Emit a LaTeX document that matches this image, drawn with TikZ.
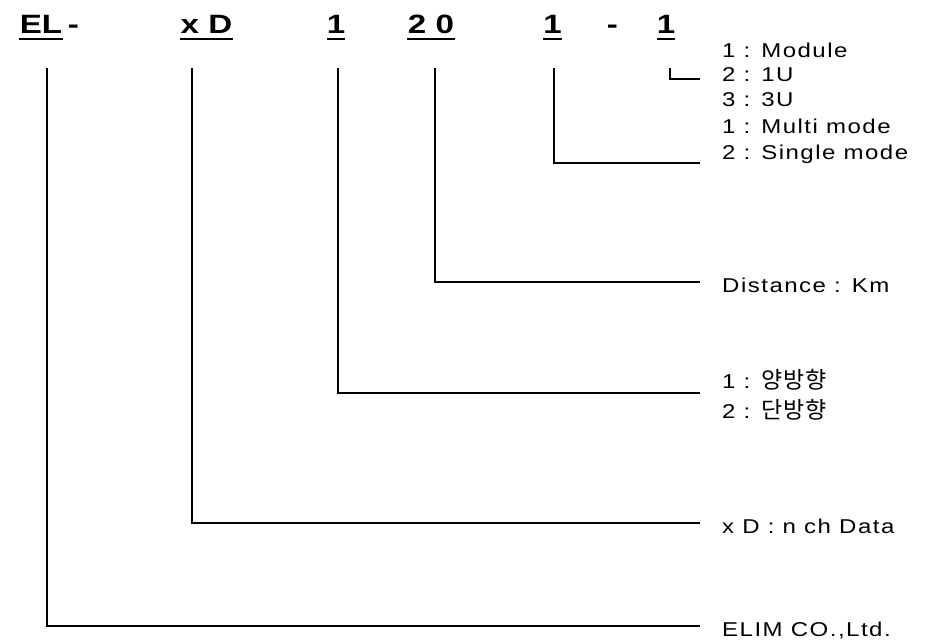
\documentclass[tikz,border=0pt]{standalone}
\usepackage{fontspec}
\setmainfont{Liberation Sans}[FakeStretch=1.2,LetterSpace=7.5]
\newfontfamily\krfont{Noto Sans CJK KR}[LetterSpace=5,Scale=1.15]
\newfontfamily\hdfont{Liberation Sans}[FakeStretch=1.25]
\begin{document}
\begin{tikzpicture}[x=1pt,y=-1pt,
  code/.style={font=\hdfont\bfseries\fontsize{26.5}{30}\selectfont, inner sep=0pt, anchor=base},
  lbl/.style={font=\fontsize{20}{24}\selectfont, inner sep=0pt, anchor=base west},
  wire/.style={line width=1.6pt},
  uline/.style={line width=1.8pt}]
\useasboundingbox (0,0) rectangle (935,640);

\node[code] (el) at (41,33) {EL};
\node[code] (dashA) at (73.5,33) {-};
\node[code] (xd) at (206.5,33) {x D};
\node[code] (dir) at (336,33) {1};
\node[code] (dist) at (431,33) {2 0};
\node[code] (mode) at (552.5,33) {1};
\node[code] (dashB) at (612.5,33) {-};
\node[code] (form) at (666,33) {1};

\draw[uline] (19,39) -- (63,39);
\draw[uline] (180,39) -- (233,39);
\draw[uline] (327,39) -- (345,39);
\draw[uline] (407,39) -- (455,39);
\draw[uline] (543,39) -- (562,39);
\draw[uline] (657,39) -- (675,39);

\node[lbl] (form1) at (722,57) {1 : Module};
\node[lbl] (form2) at (722,81.5) {2 : 1U};
\node[lbl] (form3) at (722,106) {3 : 3U};
\node[lbl] (mode1) at (722,133) {1 : Multi mode};
\node[lbl] (mode2) at (722,159) {2 : Single mode};
\node[lbl] (dist1) at (722,292.5) {Distance : Km};
\node[lbl] (dir1) at (722,388) {1 : {\krfont 양방향}};
\node[lbl] (dir2) at (722,418) {2 : {\krfont 단방향}};
\node[lbl] (xd1) at (722,533) {x D : n ch Data};
\node[lbl] (el1) at (722,636) {ELIM CO.,Ltd.};

\foreach \n/\x/\y in {el/47/626, xd/192/523, dir/338/393, dist/435/282, mode/554/163, form/670/79} {
  \coordinate (\n top) at (\x,68);
  \coordinate (\n end) at (700,\y);
  \draw[wire] (\n top) |- (\n end);
}
\end{tikzpicture}
\end{document}
